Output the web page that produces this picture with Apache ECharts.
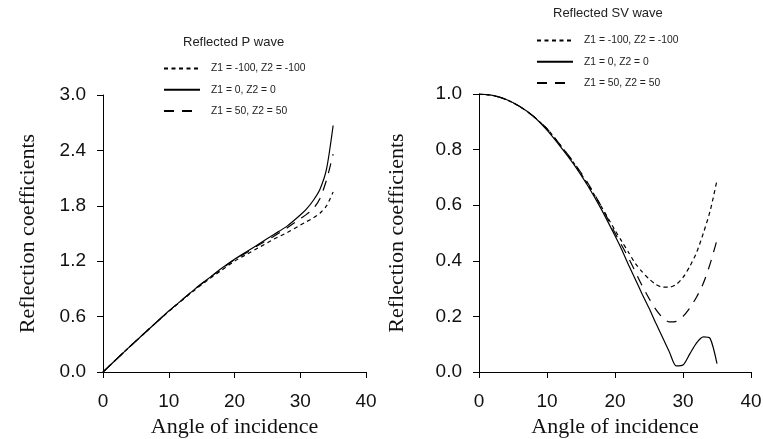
<!DOCTYPE html>
<html><head><meta charset="utf-8">
<script src="https://cdn.jsdelivr.net/npm/echarts@6/dist/echarts.min.js"></script>
<style>html,body{margin:0;padding:0;background:#fff}#c{width:763px;height:439px}</style>
</head><body><div id="c"></div>
<script>
// Reflected P wave
const pAngles = [0,2,4,6,8,10,12,14,16,18,20,22,24,26,28,30,31,32,33,34,35];
const pNeg100 = [0,0.135,0.27,0.40,0.53,0.655,0.775,0.89,1.0,1.10,1.20,1.28,1.36,1.44,1.51,1.59,1.63,1.67,1.72,1.80,1.95];
const pZero   = [0,0.135,0.27,0.40,0.53,0.66,0.78,0.90,1.01,1.12,1.22,1.31,1.40,1.49,1.58,1.70,1.77,1.86,1.98,2.20,2.67];
const pPos50  = [0,0.135,0.27,0.40,0.53,0.66,0.78,0.90,1.01,1.115,1.215,1.30,1.39,1.47,1.56,1.66,1.71,1.77,1.88,2.08,2.36];
// Reflected SV wave
const svAngles = [0,2,4,6,8,10,12,14,16,18,20,21,22,23,24,25,26,27,28,29,30,31,32,33,34,35];
const svNeg100 = [1.0,0.995,0.98,0.955,0.92,0.875,0.815,0.75,0.675,0.595,0.51,0.47,0.43,0.39,0.36,0.335,0.315,0.305,0.305,0.315,0.34,0.38,0.43,0.50,0.58,0.69];
const svZero   = [1.0,0.995,0.98,0.955,0.92,0.87,0.81,0.745,0.67,0.585,0.49,0.44,0.385,0.333,0.28,0.23,0.176,0.124,0.072,0.022,0.025,0.065,0.105,0.126,0.12,0.03];
const svPos50  = [1.0,0.995,0.98,0.955,0.92,0.875,0.815,0.752,0.68,0.595,0.50,0.455,0.41,0.36,0.31,0.265,0.225,0.195,0.18,0.182,0.20,0.23,0.27,0.32,0.39,0.475];
const names = ['Z1 = -100, Z2 = -100','Z1 = 0, Z2 = 0','Z1 = 50, Z2 = 50'];
const xTicks = {min:0,max:40,interval:10};
const pTicks = {min:0,max:3,interval:0.6};
const svTicks = {min:0,max:1,interval:0.2};

const pair = (xs, ys) => xs.map((x,i)=>[x,ys[i]]);
const dashes = [[4,3.5],'solid',[10,8]];
function mk(name, data, idx, di){
  return {type:'line', name:name, xAxisIndex:idx, yAxisIndex:idx, data:data, symbol:'none', smooth:0.25,
    lineStyle:{color:'#000', width:1.2, type:dashes[di]}, itemStyle:{color:'#000'}};
}
function xAx(gi){
  return {type:'value', gridIndex:gi, min:xTicks.min, max:xTicks.max, interval:xTicks.interval,
    name:'Angle of incidence', nameLocation:'middle', nameGap:44,
    nameTextStyle:{fontFamily:'Liberation Serif', fontSize:22, color:'#111'},
    axisLine:{lineStyle:{color:'#000',width:1}}, axisTick:{length:6,lineStyle:{color:'#000'}},
    axisLabel:{margin:20, fontFamily:'Liberation Sans', fontSize:19, color:'#111'}, splitLine:{show:false}};
}
function yAx(gi, t, gap){
  return {type:'value', gridIndex:gi, min:t.min, max:t.max, interval:t.interval,
    name:'Reflection coefficients', nameLocation:'middle', nameGap:gap,
    nameTextStyle:{fontFamily:'Liberation Serif', fontSize:22, color:'#111'},
    axisLine:{show:true,lineStyle:{color:'#000',width:1}}, axisTick:{show:true,length:6,lineStyle:{color:'#000'}},
    axisLabel:{margin:17, fontFamily:'Liberation Sans', fontSize:19, color:'#111', formatter:v=>v.toFixed(1)}, splitLine:{show:false}};
}
const legendCommon = {orient:'vertical', itemWidth:36, itemHeight:14, itemGap:10, padding:0, data:names,
  itemStyle:{opacity:0},
  textStyle:{fontFamily:'Liberation Sans', fontSize:10.3, color:'#222', padding:[0,0,0,6]}, selectedMode:false};
const chart = echarts.init(document.getElementById('c'), null, {renderer:'canvas'});
chart.setOption({
  animation:false,
  title:[
    {text:'Reflected P wave', left:183, top:36, padding:0, textStyle:{fontFamily:'Liberation Sans', fontSize:13, fontWeight:'normal', color:'#222'}},
    {text:'Reflected SV wave', left:553, top:7, padding:0, textStyle:{fontFamily:'Liberation Sans', fontSize:13, fontWeight:'normal', color:'#222'}}
  ],
  legend:[
    Object.assign({left:163, top:63}, legendCommon),
    Object.assign({left:536, top:35}, legendCommon)
  ],
  grid:[
    {left:103, top:95, width:263, height:277, containLabel:false, outerBoundsMode:'none'},
    {left:479, top:94, width:272, height:278, containLabel:false, outerBoundsMode:'none'}
  ],
  xAxis:[xAx(0), xAx(1)],
  yAxis:[yAx(0,pTicks,64), yAx(1,svTicks,71)],
  series:[
    mk(names[0], pair(pAngles,pNeg100), 0, 0),
    mk(names[1], pair(pAngles,pZero), 0, 1),
    mk(names[2], pair(pAngles,pPos50), 0, 2),
    mk(names[0], pair(svAngles,svNeg100), 1, 0),
    mk(names[1], pair(svAngles,svZero), 1, 1),
    mk(names[2], pair(svAngles,svPos50), 1, 2)
  ]
});
</script></body></html>
